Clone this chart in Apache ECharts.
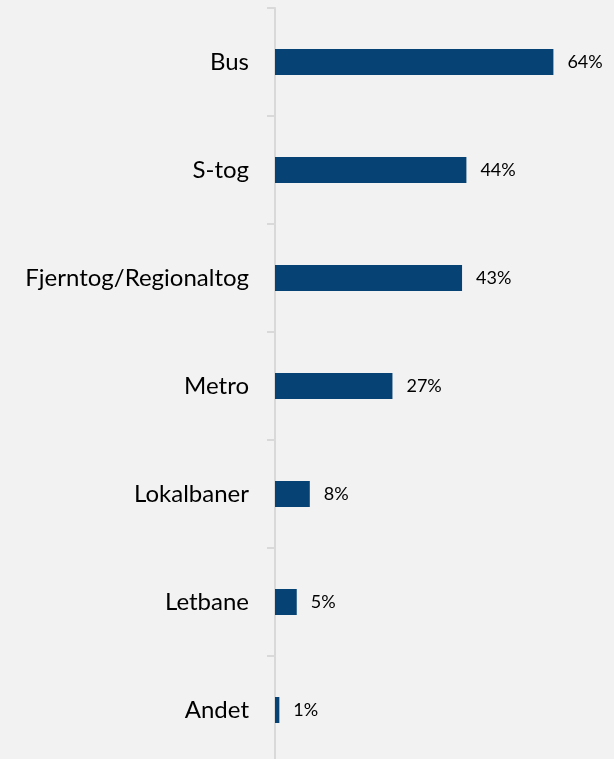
<!DOCTYPE html>
<html>
<head>
    <meta charset="utf-8">
    <title></title>
    <style>
        html, body { margin: 0; padding: 0; background: #f2f2f2; }
    </style>
</head>
<body>
<div id="main" style="width: 614px;height:759px;"></div>
    <script type="text/javascript" src="https://cdn.jsdelivr.net/npm/echarts@6/dist/echarts.min.js"></script>
    <script type="text/javascript">
        // kategorier og andele (%)
        var categories = ['Bus', 'S-tog', 'Fjerntog/Regionaltog', 'Metro', 'Lokalbaner', 'Letbane', 'Andet'];
        var values = [64, 44, 43, 27, 8, 5, 1];

        var charts = echarts.init(document.getElementById('main'));

        var option = {
            backgroundColor: '#f2f2f2',
            animation: false,
            grid: {
                left: 275,
                top: 8,
                width: 348,
                height: 756,
                containLabel: false,
                outerBoundsMode: 'none'
            },
            xAxis: {
                type: 'value',
                min: 0,
                max: 80,
                show: false
            },
            yAxis: {
                type: 'category',
                inverse: true,
                data: categories,
                axisLine: {
                    show: true,
                    lineStyle: { color: '#d9d9d9', width: 2 }
                },
                axisTick: {
                    show: true,
                    length: 8,
                    lineStyle: { color: '#d9d9d9', width: 2 }
                },
                axisLabel: {
                    margin: 26,
                    color: '#000',
                    fontSize: 24,
                    fontFamily: 'Lato'
                }
            },
            series: [{
                type: 'bar',
                data: values,
                barWidth: 26,
                itemStyle: { color: '#064274' },
                label: {
                    show: true,
                    position: 'right',
                    distance: 14,
                    color: '#000',
                    fontSize: 18,
                    fontFamily: 'Lato',
                    formatter: '{c}%'
                }
            }]
        };
        charts.setOption(option);
    </script>
</body>
</html>
